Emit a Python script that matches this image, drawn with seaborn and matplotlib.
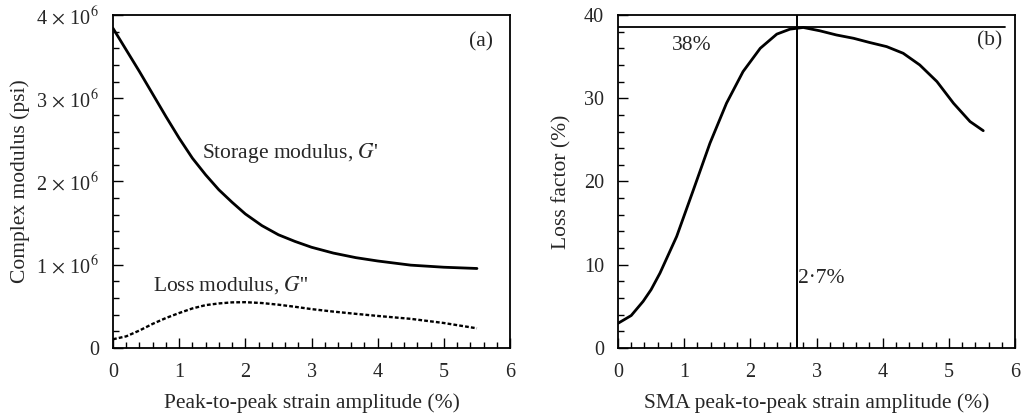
import numpy as np
import pandas as pd
import matplotlib
matplotlib.use("Agg")
import matplotlib.pyplot as plt
import seaborn as sns
from matplotlib.ticker import MultipleLocator, FuncFormatter

# ---- data ----
strain_a = [0.0, 0.2, 0.4, 0.6, 0.8, 1.0, 1.2, 1.4, 1.6, 1.8, 2.0, 2.25, 2.5, 2.75, 3.0, 3.33, 3.67, 4.0, 4.5, 5.0, 5.5]
storage = [3.84e6, 3.58e6, 3.32e6, 3.05e6, 2.78e6, 2.52e6, 2.28e6, 2.08e6, 1.90e6, 1.75e6, 1.61e6, 1.47e6, 1.36e6, 1.28e6, 1.21e6, 1.14e6, 1.085e6, 1.045e6, 0.995e6, 0.97e6, 0.955e6]
loss = [0.105e6, 0.14e6, 0.21e6, 0.29e6, 0.36e6, 0.42e6, 0.475e6, 0.515e6, 0.535e6, 0.548e6, 0.55e6, 0.54e6, 0.52e6, 0.495e6, 0.467e6, 0.437e6, 0.41e6, 0.385e6, 0.35e6, 0.30e6, 0.236e6]

strain_b = [0.0, 0.2, 0.38, 0.5, 0.635, 0.887, 1.14, 1.39, 1.64, 1.89, 2.15, 2.4, 2.6, 2.8, 3.05, 3.3, 3.56, 3.8, 4.06, 4.31, 4.56, 4.82, 5.07, 5.32, 5.52]
loss_factor = [2.96, 3.9, 5.6, 7.0, 9.0, 13.4, 19.0, 24.6, 29.4, 33.2, 36.0, 37.7, 38.3, 38.5, 38.1, 37.6, 37.2, 36.7, 36.2, 35.4, 34.0, 32.0, 29.4, 27.2, 26.1]
peak_strain = 2.7
peak_loss = 38.5

sns.set_style("ticks")
plt.rcParams["font.family"] = ["Liberation Serif", "DejaVu Serif"]
plt.rcParams["mathtext.fontset"] = "stix"
plt.rcParams["axes.linewidth"] = 1.3

fig = plt.figure(figsize=(10.31, 4.16), dpi=100)
ax1 = fig.add_axes([0.1096, 0.1635, 0.3851, 0.8005])
ax2 = fig.add_axes([0.5994, 0.1635, 0.3851, 0.8005])

dfa = pd.DataFrame({"x": strain_a, "storage": storage, "loss": loss})
dfb = pd.DataFrame({"x": strain_b, "lf": loss_factor})

sns.lineplot(data=dfa, x="x", y="storage", ax=ax1, color="black", lw=2.0)
sns.lineplot(data=dfa, x="x", y="loss", ax=ax1, color="black", lw=1.7, linestyle=(0, (1.6, 0.9)))
sns.lineplot(data=dfb, x="x", y="lf", ax=ax2, color="black", lw=2.0)

ax2.plot([0, 5.85], [peak_loss, peak_loss], color="black", lw=1.3)
ax2.plot([peak_strain, peak_strain], [0, 40], color="black", lw=1.4)

tfs = 14.5
lfs = 15.5
for ax in (ax1, ax2):
    ax.set_xlim(0, 6)
    ax.xaxis.set_major_locator(MultipleLocator(1))
    ax.xaxis.set_minor_locator(MultipleLocator(0.2))
    ax.tick_params(which="both", direction="in", top=False, right=False, labelsize=tfs, color="black", width=1.0)
    ax.tick_params(which="major", length=7)
    ax.tick_params(which="minor", length=4)
    ax.tick_params(axis="x", which="major", pad=11)
    ax.tick_params(axis="y", which="major", pad=10)
    for s in ax.spines.values():
        s.set_visible(True)
        s.set_color("black")

ax1.set_ylim(0, 4e6)
ax1.yaxis.set_major_locator(MultipleLocator(1e6))
ax1.yaxis.set_minor_locator(MultipleLocator(0.2e6))

def fmt(v, pos):
    k = int(round(v / 1e6))
    if k == 0:
        return "0"
    return r"%d$\,\times\,$10$^{6}$" % k

ax1.yaxis.set_major_formatter(FuncFormatter(fmt))
ax2.set_ylim(0, 40)
ax2.yaxis.set_major_locator(MultipleLocator(10))
ax2.yaxis.set_minor_locator(MultipleLocator(2))

ax1.set_xlabel("Peak-to-peak strain amplitude (%)", fontsize=lfs, labelpad=8)
ax1.set_ylabel("Complex modulus (psi)", fontsize=lfs, labelpad=5)
ax2.set_xlabel("SMA peak-to-peak strain amplitude (%)", fontsize=lfs, labelpad=8)
ax2.set_ylabel("Loss factor (%)", fontsize=lfs, labelpad=9)

ax1.text(1.35, 2.34e6, r"Storage modulus, $\mathit{G}$'", fontsize=lfs, va="center", ha="left")
ax1.text(0.61, 0.76e6, r"Loss modulus, $\mathit{G}$''", fontsize=lfs, va="center", ha="left")
ax1.text(5.38, 3.68e6, "(a)", fontsize=lfs, va="center", ha="left")
ax2.text(5.42, 36.9, "(b)", fontsize=lfs, va="center", ha="left")
ax2.text(0.81, 36.3, "38%", fontsize=lfs, va="center", ha="left")
ax2.text(2.72, 8.3, "2\u00b77%", fontsize=lfs, va="center", ha="left")

fig.savefig("out.png", dpi=100)
